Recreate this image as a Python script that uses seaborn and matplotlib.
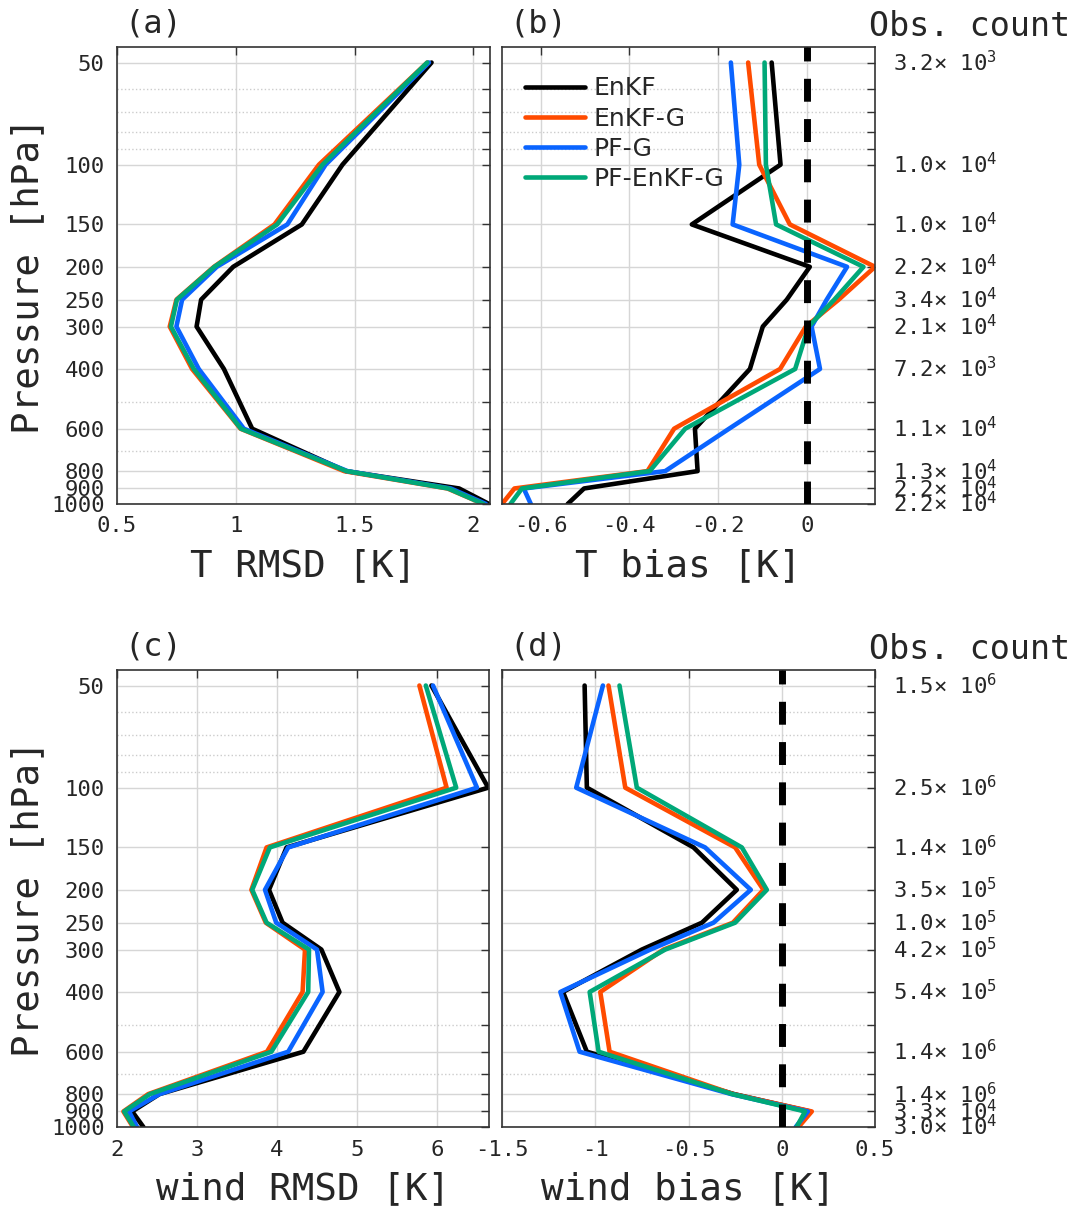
import numpy as np
import pandas as pd
import seaborn as sns
import matplotlib.pyplot as plt
from matplotlib.ticker import FixedLocator, NullFormatter
from matplotlib.transforms import blended_transform_factory
from matplotlib.lines import Line2D

sns.set_style("white")
plt.rcParams['font.family'] = ['DejaVu Sans Mono']
plt.rcParams['mathtext.fontset'] = 'custom'
plt.rcParams['mathtext.rm'] = 'DejaVu Sans Mono'
plt.rcParams['mathtext.it'] = 'DejaVu Sans Mono'
plt.rcParams['axes.unicode_minus'] = False

# pressure levels [hPa]
pressure = [50, 100, 150, 200, 250, 300, 400, 600, 800, 900, 1000]
methods = ["EnKF", "EnKF-G", "PF-G", "PF-EnKF-G"]
colors = ["#000000", "#ff4b00", "#0a64ff", "#00a878"]

# (a) temperature RMSD
t_rmsd_enkf = [1.824, 1.449, 1.278, 0.989, 0.854, 0.835, 0.950, 1.069, 1.463, 1.940, 2.066]
t_rmsd_enkfg = [1.806, 1.350, 1.163, 0.908, 0.750, 0.722, 0.816, 1.020, 1.456, 1.891, 2.043]
t_rmsd_pfg = [1.813, 1.378, 1.217, 0.920, 0.774, 0.750, 0.844, 1.034, 1.470, 1.905, 2.053]
t_rmsd_pfenkfg = [1.806, 1.365, 1.174, 0.910, 0.752, 0.727, 0.823, 1.022, 1.466, 1.894, 2.043]

# (b) temperature bias
t_bias_enkf = [-0.079, -0.059, -0.259, 0.007, -0.045, -0.099, -0.128, -0.252, -0.246, -0.502, -0.539]
t_bias_enkfg = [-0.132, -0.107, -0.038, 0.154, 0.072, -0.002, -0.060, -0.299, -0.359, -0.659, -0.687]
t_bias_pfg = [-0.171, -0.152, -0.167, 0.091, 0.045, 0.011, 0.030, -0.175, -0.319, -0.638, -0.622]
t_bias_pfenkfg = [-0.095, -0.092, -0.069, 0.128, 0.062, 0.004, -0.026, -0.274, -0.354, -0.642, -0.668]

# (c) wind RMSD
w_rmsd_enkf = [5.93, 6.64, 4.12, 3.90, 4.07, 4.555, 4.78, 4.33, 2.53, 2.19, 2.33]
w_rmsd_enkfg = [5.78, 6.12, 3.87, 3.68, 3.86, 4.35, 4.32, 3.875, 2.39, 2.08, 2.20]
w_rmsd_pfg = [5.95, 6.50, 4.14, 3.85, 3.99, 4.50, 4.57, 4.14, 2.53, 2.15, 2.25]
w_rmsd_pfenkfg = [5.86, 6.24, 3.91, 3.69, 3.87, 4.40, 4.39, 3.93, 2.41, 2.09, 2.21]

# (d) wind bias
w_bias_enkf = [-1.057, -1.045, -0.473, -0.241, -0.428, -0.750, -1.173, -1.045, -0.255, 0.152, 0.080]
w_bias_enkfg = [-0.929, -0.839, -0.250, -0.098, -0.262, -0.634, -0.973, -0.923, -0.260, 0.161, 0.090]
w_bias_pfg = [-0.959, -1.102, -0.411, -0.166, -0.366, -0.705, -1.187, -1.084, -0.270, 0.140, 0.075]
w_bias_pfenkfg = [-0.870, -0.777, -0.214, -0.080, -0.250, -0.625, -1.030, -0.982, -0.265, 0.125, 0.080]

# observation counts (mantissa, exponent)
t_obs_mant = [3.2, 1.0, 1.0, 2.2, 3.4, 2.1, 7.2, 1.1, 1.3, 2.2, 2.2]
t_obs_exp = [3, 4, 4, 4, 4, 4, 3, 4, 4, 4, 4]
w_obs_mant = [1.5, 2.5, 1.4, 3.5, 1.0, 4.2, 5.4, 1.4, 1.4, 3.3, 3.0]
w_obs_exp = [6, 6, 6, 5, 5, 5, 5, 6, 6, 4, 4]

major_p = pressure
minor_p = [60, 70, 80, 90, 500, 700]

fig = plt.figure(figsize=(10.74, 12.07), dpi=100)
W, H = 1074, 1207


def add_ax(l, t, r, b):
    return fig.add_axes([l / W, 1 - b / H, (r - l) / W, (b - t) / H])


ax_a = add_ax(117, 47, 490, 504)
ax_b = add_ax(502, 47, 875, 504)
ax_c = add_ax(117, 670, 489, 1127)
ax_d = add_ax(502, 670, 875, 1127)


def draw(ax, series, xlim, xticks, xlabel, tag, show_y):
    df = pd.concat([pd.DataFrame({'value': s, 'pressure': pressure, 'method': m})
                    for s, m in zip(series, methods)])
    sns.lineplot(data=df, x='value', y='pressure', hue='method', hue_order=methods,
                 palette=colors, orient='y', sort=False, estimator=None,
                 lw=3.3, legend=False, ax=ax)
    ax.set_yscale('log')
    ax.set_ylim(1000, 45)
    ax.set_xlim(*xlim)
    ax.yaxis.set_major_locator(FixedLocator(major_p))
    ax.yaxis.set_minor_locator(FixedLocator(minor_p))
    ax.yaxis.set_minor_formatter(NullFormatter())
    if show_y:
        ax.set_yticklabels([str(p) for p in major_p])
    else:
        ax.set_yticklabels([])
    ax.set_xticks(xticks)
    ax.set_xticklabels([f"{v:g}" for v in xticks])
    ax.set_xlabel('')
    ax.set_ylabel('')
    ax.grid(True, which='major', color='#d6d6d6', lw=1, ls='-')
    ax.grid(True, which='minor', axis='y', color='#cccccc', lw=1, ls=':')
    ax.tick_params(which='both', direction='in', length=6, width=1, color='#333333',
                   top=True, right=True, labelsize=16, pad=9)
    for sp in ax.spines.values():
        sp.set_color('#333333')
        sp.set_linewidth(1.2)
    ax.text(0.5, -0.137, xlabel, transform=ax.transAxes, ha='center', va='center',
            fontsize=27)
    ax.text(0.02, 1.05, tag, transform=ax.transAxes, ha='left', va='center',
            fontsize=23)


draw(ax_a, [t_rmsd_enkf, t_rmsd_enkfg, t_rmsd_pfg, t_rmsd_pfenkfg],
     (0.5, 2.07), [0.5, 1, 1.5, 2], 'T RMSD [K]', '(a)', True)
draw(ax_b, [t_bias_enkf, t_bias_enkfg, t_bias_pfg, t_bias_pfenkfg],
     (-0.687, 0.154), [-0.6, -0.4, -0.2, 0], 'T bias [K]', '(b)', False)
draw(ax_c, [w_rmsd_enkf, w_rmsd_enkfg, w_rmsd_pfg, w_rmsd_pfenkfg],
     (2, 6.65), [2, 3, 4, 5, 6], 'wind RMSD [K]', '(c)', True)
draw(ax_d, [w_bias_enkf, w_bias_enkfg, w_bias_pfg, w_bias_pfenkfg],
     (-1.5, 0.5), [-1.5, -1, -0.5, 0, 0.5], 'wind bias [K]', '(d)', False)

for ax in (ax_b, ax_d):
    ax.axvline(0, color='black', lw=5, dashes=(3.3, 2.5), zorder=5)

for ax, mant, expo in ((ax_b, t_obs_mant, t_obs_exp), (ax_d, w_obs_mant, w_obs_exp)):
    tr = blended_transform_factory(ax.transAxes, ax.transData)
    for p, m, e in zip(pressure, mant, expo):
        ax.text(1.048, p, f"{m:.1f}" + r"$\times$ $10^{%d}$" % e, transform=tr,
                ha='left', va='center', fontsize=16, clip_on=False)
    ax.text(0.983, 1.045, 'Obs. count', transform=ax.transAxes, ha='left',
            va='center', fontsize=24)

for ax in (ax_a, ax_c):
    ax.text(-0.238, 0.5, 'Pressure [hPa]', transform=ax.transAxes, rotation=90,
            ha='center', va='center', fontsize=27)

handles = [Line2D([], [], color=c, lw=3.3) for c in colors]
ax_b.legend(handles, methods, loc='upper left', bbox_to_anchor=(0.0, 0.985),
            frameon=False, prop={'family': 'DejaVu Sans', 'size': 18},
            handlelength=2.4, labelspacing=0.25, handletextpad=0.35)

fig.savefig('out.png', dpi=100)
